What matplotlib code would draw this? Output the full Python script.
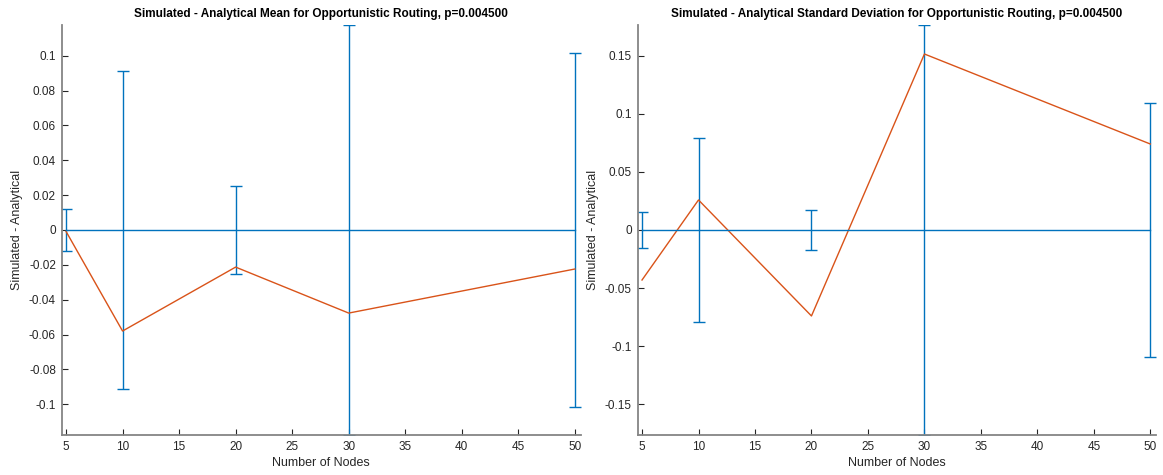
import matplotlib
matplotlib.use("Agg")
import matplotlib.pyplot as plt
from matplotlib.ticker import FuncFormatter

plt.rcParams["font.family"] = ["Liberation Sans", "DejaVu Sans"]

nodes = [5, 10, 20, 30, 50]

# mean difference (simulated - analytical) and its confidence half-widths
mean_diff = [-0.0008, -0.058, -0.0213, -0.0477, -0.0224]
mean_err = [0.012, 0.0914, 0.0253, 0.1177, 0.1017]

# standard deviation difference and its confidence half-widths
std_diff = [-0.0431, 0.0259, -0.0741, 0.1517, 0.0741]
std_err = [0.0155, 0.0793, 0.0172, 0.1767, 0.1095]

mean_ticks = [-0.1, -0.08, -0.06, -0.04, -0.02, 0, 0.02, 0.04, 0.06, 0.08, 0.1]
std_ticks = [-0.15, -0.1, -0.05, 0, 0.05, 0.1, 0.15]
x_ticks = [5, 10, 15, 20, 25, 30, 35, 40, 45, 50]

BLUE = "#0072BD"
ORANGE = "#D95319"
AXIS_GRAY = "#858585"
TEXT = "#262626"

fig = plt.figure(figsize=(11.63, 4.75), dpi=100)
W, H = 1163, 475
ax_mean = fig.add_axes([61.5 / W, 1 - 435 / H, (580.5 - 61.5) / W, 410 / H])
ax_std = fig.add_axes([637.5 / W, 1 - 435 / H, (1156 - 637.5) / W, 410 / H])


def fmt(v, _):
    return "0" if abs(v) < 1e-12 else f"{v:g}"


def draw(ax, diff, err, ticks, title):
    zeros = [0] * len(nodes)
    ax.errorbar(nodes, zeros, yerr=err, color=BLUE, lw=1.0, capsize=4,
                capthick=1.0, elinewidth=1.0, clip_on=True)
    ax.plot(nodes, diff, color=ORANGE, lw=1.0)
    lim = max(err)
    ax.set_ylim(-lim, lim)
    ax.set_xlim(4.6, 50.5)
    ax.set_xticks(x_ticks)
    ax.set_yticks(ticks)
    ax.yaxis.set_major_formatter(FuncFormatter(fmt))
    for side in ("top", "right"):
        ax.spines[side].set_visible(False)
    for side in ("left", "bottom"):
        ax.spines[side].set_color(AXIS_GRAY)
        ax.spines[side].set_linewidth(1.3)
    ax.tick_params(direction="in", length=4, width=0.8, colors=TEXT,
                   labelsize=8.5, pad=4)
    ax.set_xlabel("Number of Nodes", fontsize=9, color=TEXT, labelpad=3)
    ax.set_ylabel("Simulated - Analytical", fontsize=9, color=TEXT, labelpad=4)
    ax.set_title(title, fontsize=8.5, fontweight="bold", color="black", pad=6)


draw(ax_mean, mean_diff, mean_err, mean_ticks,
     "Simulated - Analytical Mean for Opportunistic Routing, p=0.004500")
draw(ax_std, std_diff, std_err, std_ticks,
     "Simulated - Analytical Standard Deviation for Opportunistic Routing, p=0.004500")

fig.savefig("out.png", dpi=100)
